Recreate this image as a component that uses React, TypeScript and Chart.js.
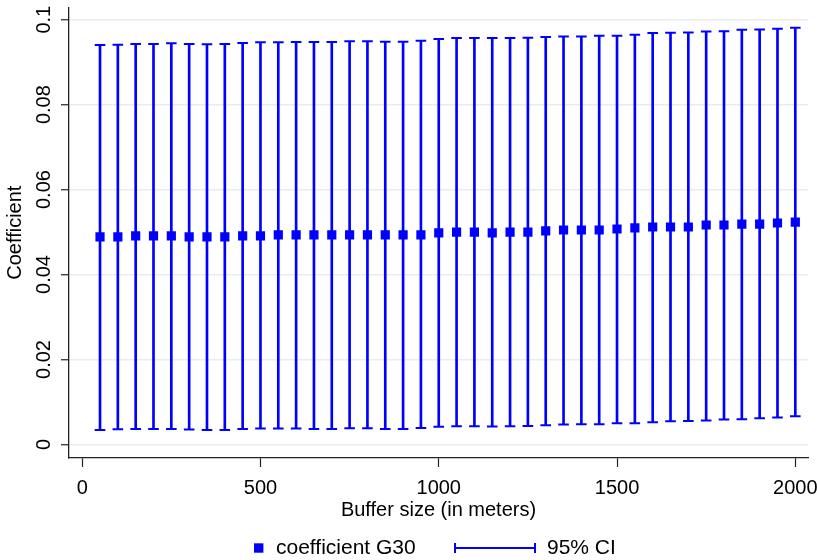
import React, { useEffect, useRef } from 'react';
import { Chart, registerables } from 'chart.js';

Chart.register(...registerables);

// ---- data ----
const BUFFER_SIZES = [
  50, 100, 150, 200, 250, 300, 350, 400, 450, 500,
  550, 600, 650, 700, 750, 800, 850, 900, 950, 1000,
  1050, 1100, 1150, 1200, 1250, 1300, 1350, 1400, 1450, 1500,
  1550, 1600, 1650, 1700, 1750, 1800, 1850, 1900, 1950, 2000,
];

const COEF = [
  0.04885, 0.04885, 0.04909, 0.04909, 0.04909, 0.04885, 0.04885, 0.04885, 0.04909, 0.04909,
  0.04932, 0.04932, 0.04932, 0.04932, 0.04932, 0.04932, 0.04932, 0.04932, 0.04932, 0.0498,
  0.0500, 0.0500, 0.0498, 0.0500, 0.0500, 0.05026, 0.05049, 0.05049, 0.05049, 0.05072,
  0.0510, 0.05119, 0.05119, 0.05119, 0.05166, 0.05166, 0.05189, 0.05189, 0.05213, 0.05236,
];

const CI_HIGH = [
  0.09404, 0.09411, 0.09427, 0.09427, 0.09444, 0.09427, 0.0942, 0.09427, 0.09451, 0.09467,
  0.09467, 0.09474, 0.09474, 0.09474, 0.09491, 0.09491, 0.09481, 0.09481, 0.09505, 0.09544,
  0.09568, 0.09568, 0.09568, 0.09568, 0.09575, 0.09591, 0.09607, 0.09607, 0.09621, 0.09621,
  0.09645, 0.09685, 0.09691, 0.09701, 0.09724, 0.09731, 0.09762, 0.09771, 0.09785, 0.09808,
];

const CI_LOW = [
  0.00341, 0.00358, 0.00365, 0.00365, 0.00365, 0.00351, 0.00341, 0.00341, 0.00365, 0.00374,
  0.00374, 0.00374, 0.00365, 0.00365, 0.00381, 0.00381, 0.00365, 0.00365, 0.00388, 0.00416,
  0.00428, 0.00428, 0.00421, 0.00428, 0.00435, 0.00451, 0.00468, 0.00475, 0.00475, 0.00498,
  0.00498, 0.00521, 0.00545, 0.00552, 0.00561, 0.00584, 0.00591, 0.00615, 0.00631, 0.00662,
];

const X_TICKS = [0, 500, 1000, 1500, 2000];
const X_TICK_LABELS = ['0', '500', '1000', '1500', '2000'];
const Y_TICKS = [0, 0.02, 0.04, 0.06, 0.08, 0.1];
const Y_TICK_LABELS = ['0', '0.02', '0.04', '0.06', '0.08', '0.1'];

const SERIES_LABEL = 'coefficient G30';
const CI_LABEL = '95% CI';
const X_TITLE = 'Buffer size (in meters)';
const Y_TITLE = 'Coefficient';

// ---- style ----
const BLUE = '#0000FF';
const FONT = '"Liberation Sans", Arial, Helvetica, sans-serif';
const FONT_SIZE = 20;
const LEGEND_FONT_SIZE = 21;
const GRID = '#E6EDEE';
const AXIS = '#222222';

const legendPlugin = {
  id: 'stataLegend',
  afterDraw(chart: any) {
    const ctx = chart.ctx as CanvasRenderingContext2D;
    const y = 548;
    ctx.save();
    // marker symbol
    ctx.fillStyle = BLUE;
    ctx.fillRect(254, y - 4.7, 9.4, 9.4);
    // CI symbol
    ctx.strokeStyle = BLUE;
    ctx.lineWidth = 2;
    ctx.beginPath();
    ctx.moveTo(455, y);
    ctx.lineTo(535, y);
    ctx.moveTo(455, y - 5);
    ctx.lineTo(455, y + 5);
    ctx.moveTo(535, y - 5);
    ctx.lineTo(535, y + 5);
    ctx.stroke();
    // texts
    ctx.fillStyle = '#000';
    ctx.font = `${LEGEND_FONT_SIZE}px ${FONT}`;
    ctx.textBaseline = 'middle';
    ctx.textAlign = 'left';
    ctx.fillText(SERIES_LABEL, 276, y);
    ctx.fillText(CI_LABEL, 547, y);
    ctx.restore();
  },
};

export default function App() {
  const canvasRef = useRef<HTMLCanvasElement | null>(null);

  useEffect(() => {
    const canvas = canvasRef.current;
    if (!canvas) return;

    const chart = new Chart(canvas, {
      type: 'scatter',
      data: {
        datasets: [
          {
            type: 'scatter',
            label: SERIES_LABEL,
            data: BUFFER_SIZES.map((x, i) => ({ x, y: COEF[i] })),
            pointStyle: 'rect',
            pointRadius: 6.5,
            backgroundColor: BLUE,
            borderColor: BLUE,
            borderWidth: 0,
            order: 0,
          } as any,
          {
            type: 'scatter',
            label: 'ci-high-cap',
            data: BUFFER_SIZES.map((x, i) => ({ x, y: CI_HIGH[i] })),
            pointStyle: 'line',
            pointRadius: 5.3,
            borderColor: BLUE,
            borderWidth: 2,
            order: 1,
          } as any,
          {
            type: 'scatter',
            label: 'ci-low-cap',
            data: BUFFER_SIZES.map((x, i) => ({ x, y: CI_LOW[i] })),
            pointStyle: 'line',
            pointRadius: 5.3,
            borderColor: BLUE,
            borderWidth: 2,
            order: 1,
          } as any,
          {
            type: 'bar',
            label: CI_LABEL,
            data: BUFFER_SIZES.map((x, i) => ({ x, y: [CI_LOW[i], CI_HIGH[i]] })),
            backgroundColor: BLUE,
            borderWidth: 0,
            barThickness: 2,
            grouped: false,
            order: 2,
          } as any,
        ],
      },
      options: {
        responsive: false,
        maintainAspectRatio: false,
        devicePixelRatio: 1,
        animation: false,
        events: [],
        layout: { padding: { left: 0, right: 9, top: 4, bottom: 38 } },
        plugins: {
          legend: { display: false },
          tooltip: { enabled: false },
          title: { display: false },
        },
        scales: {
          x: {
            type: 'linear',
            min: -37,
            max: 2035.6,
            offset: false,
            afterBuildTicks: (scale: any) => {
              scale.ticks = X_TICKS.map((v) => ({ value: v }));
            },
            afterFit: (scale: any) => {
              scale.height = 64;
              scale.paddingLeft = 0;
              scale.paddingRight = 0;
            },
            ticks: {
              autoSkip: false,
              maxRotation: 0,
              minRotation: 0,
              padding: 9,
              color: '#000',
              font: { family: FONT, size: FONT_SIZE },
              callback: (_v: any, i: number) => X_TICK_LABELS[i],
            },
            grid: {
              display: true,
              offset: false,
              drawOnChartArea: false,
              drawTicks: true,
              tickLength: 9,
              tickColor: AXIS,
              tickWidth: 1.2,
            },
            border: { display: true, color: AXIS, width: 1.3 },
            title: {
              display: true,
              text: X_TITLE,
              color: '#000',
              font: { family: FONT, size: FONT_SIZE },
              padding: { top: 0, bottom: 0 },
            },
          },
          y: {
            type: 'linear',
            min: -0.0032,
            max: 0.102922,
            afterBuildTicks: (scale: any) => {
              scale.ticks = Y_TICKS.map((v) => ({ value: v }));
            },
            afterFit: (scale: any) => {
              scale.width = 69;
              scale.paddingTop = 0;
              scale.paddingBottom = 0;
            },
            ticks: {
              autoSkip: false,
              minRotation: 90,
              maxRotation: 90,
              crossAlign: 'center',
              padding: -2.5,
              color: '#000',
              font: { family: FONT, size: FONT_SIZE },
              callback: (_v: any, i: number) => Y_TICK_LABELS[i],
            },
            grid: {
              display: true,
              drawOnChartArea: true,
              drawTicks: true,
              tickLength: 8,
              color: GRID,
              lineWidth: 1.5,
              tickColor: AXIS,
              tickWidth: 1.2,
            },
            border: { display: true, color: AXIS, width: 1.3 },
            title: {
              display: true,
              text: Y_TITLE,
              color: '#000',
              font: { family: FONT, size: FONT_SIZE },
              padding: { top: 3, bottom: 0 },
            },
          },
        },
      } as any,
      plugins: [legendPlugin],
    });

    return () => {
      chart.destroy();
    };
  }, []);

  return (
    <div style={{ position: 'absolute', left: 0, top: 0, width: 817, height: 560, background: '#fff' }}>
      <canvas ref={canvasRef} width={817} height={560} style={{ width: 817, height: 560, display: 'block' }} />
    </div>
  );
}
